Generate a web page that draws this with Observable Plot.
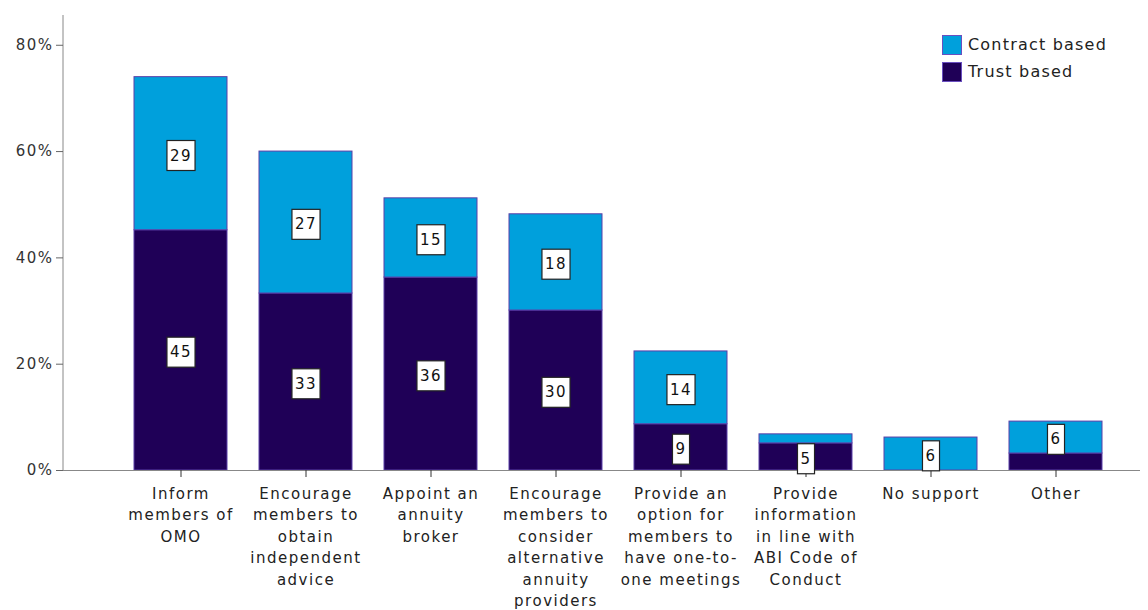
<!DOCTYPE html>
<html><head><meta charset="utf-8">
<script src="https://cdn.jsdelivr.net/npm/d3@7"></script>
<script src="https://cdn.jsdelivr.net/npm/@observablehq/plot@0.6"></script>
<style>
body{margin:0;background:#fff;font-family:"DejaVu Sans",sans-serif;}
#wrap{position:relative;width:1148px;height:610px;overflow:hidden;}
.legend{position:absolute;left:942px;top:31px;font-size:16px;color:#222;letter-spacing:1.2px;}
.legend .row{display:flex;align-items:center;height:27px;}
.legend .sw{width:18px;height:18px;border:1px solid #6a4fc0;margin-right:6px;}
</style></head><body><div id="wrap"></div>
<script>
const categories = [
  "Inform\nmembers of\nOMO",
  "Encourage\nmembers to\nobtain\nindependent\nadvice",
  "Appoint an\nannuity\nbroker",
  "Encourage\nmembers to\nconsider\nalternative\nannuity\nproviders",
  "Provide an\noption for\nmembers to\nhave one-to-\none meetings",
  "Provide\ninformation\nin line with\nABI Code of\nConduct",
  "No support",
  "Other"
];
const trustValues    = [45.2, 33.3, 36.3, 30.1, 8.7, 5.1, 0, 3.2];
const contractValues = [28.8, 26.7, 14.9, 18.1, 13.7, 1.7, 6.2, 6.0];
const seriesNames = ["Trust based", "Contract based"];
const seriesColors = ["#1f0057", "#00a0dc"];
const yTicks = [0, 20, 40, 60, 80];
const yMax = 85.6;

const rows = [];
const labels = [];
categories.forEach((c, i) => {
  rows.push({cat: c, series: seriesNames[0], value: trustValues[i]});
  rows.push({cat: c, series: seriesNames[1], value: contractValues[i]});
  if (trustValues[i] >= 4) labels.push({cat: c, mid: trustValues[i] / 2, text: String(Math.round(trustValues[i]))});
  if (contractValues[i] >= 4) labels.push({cat: c, mid: trustValues[i] + contractValues[i] / 2, text: String(Math.round(contractValues[i]))});
});

const leftAxisLine = (index, scales, values, dims) => {
  const line = document.createElementNS("http://www.w3.org/2000/svg", "line");
  line.setAttribute("x1", dims.marginLeft); line.setAttribute("x2", dims.marginLeft);
  line.setAttribute("y1", dims.marginTop); line.setAttribute("y2", dims.height - dims.marginBottom);
  line.setAttribute("stroke", "#888");
  return line;
};

const chart = Plot.plot({
  width: 1148,
  height: 610,
  marginLeft: 63,
  marginRight: 8,
  marginTop: 15,
  marginBottom: 140,
  style: {fontFamily: "DejaVu Sans, sans-serif", fontSize: "15px", letterSpacing: "1.5px", color: "#222", background: "#fff"},
  x: {type: "band", domain: categories, range: [117.5, 1117.5], paddingInner: 0.256, paddingOuter: 0.128, label: null},
  y: {domain: [0, yMax], label: null},
  color: {domain: seriesNames, range: seriesColors},
  marks: [
    Plot.barY(rows, Plot.stackY({x: "cat", y: "value", fill: "series", order: seriesNames, stroke: "#5b3fa8", strokeWidth: 1})),
    Plot.ruleY([0], {stroke: "#888"}),
    leftAxisLine,
    Plot.axisY({ticks: yTicks, tickFormat: d => d + "%", tickSize: 7, tickPadding: 3, stroke: "#666", fill: "#333", label: null}),
    Plot.axisX({tickSize: 7, tickPadding: 6, stroke: "#333", fill: "#222", lineHeight: 1.43, label: null}),
    Plot.text(labels, {x: "cat", y: "mid", dy: 2, text: "text", fill: "#111", fontSize: 15, ariaLabel: () => "seglabel"})
  ]
});
document.getElementById("wrap").appendChild(chart);

// white boxes behind segment labels
const segTexts = Array.from(chart.querySelectorAll("text")).filter(t =>
  t.getAttribute("aria-label") === "seglabel" ||
  (t.parentNode && t.parentNode.getAttribute && t.parentNode.getAttribute("aria-label") === "seglabel"));
segTexts.forEach(function (el) {
  const b = el.getBBox();
  const r = document.createElementNS("http://www.w3.org/2000/svg", "rect");
  const px = 3, py = 7;
  r.setAttribute("x", b.x - px); r.setAttribute("y", b.y - py + 1);
  r.setAttribute("width", b.width + 2 * px); r.setAttribute("height", b.height + 2 * py - 2);
  r.setAttribute("fill", "#fff"); r.setAttribute("stroke", "#222"); r.setAttribute("stroke-width", 1.2);
  const t = el.getAttribute("transform");
  if (t) r.setAttribute("transform", t);
  el.parentNode.insertBefore(r, el);
});

// legend
const leg = document.createElement("div");
leg.className = "legend";
[1, 0].forEach(i => {
  const row = document.createElement("div"); row.className = "row";
  const sw = document.createElement("div"); sw.className = "sw"; sw.style.background = seriesColors[i];
  const tx = document.createElement("span"); tx.textContent = seriesNames[i];
  row.appendChild(sw); row.appendChild(tx); leg.appendChild(row);
});
document.getElementById("wrap").appendChild(leg);
</script></body></html>
